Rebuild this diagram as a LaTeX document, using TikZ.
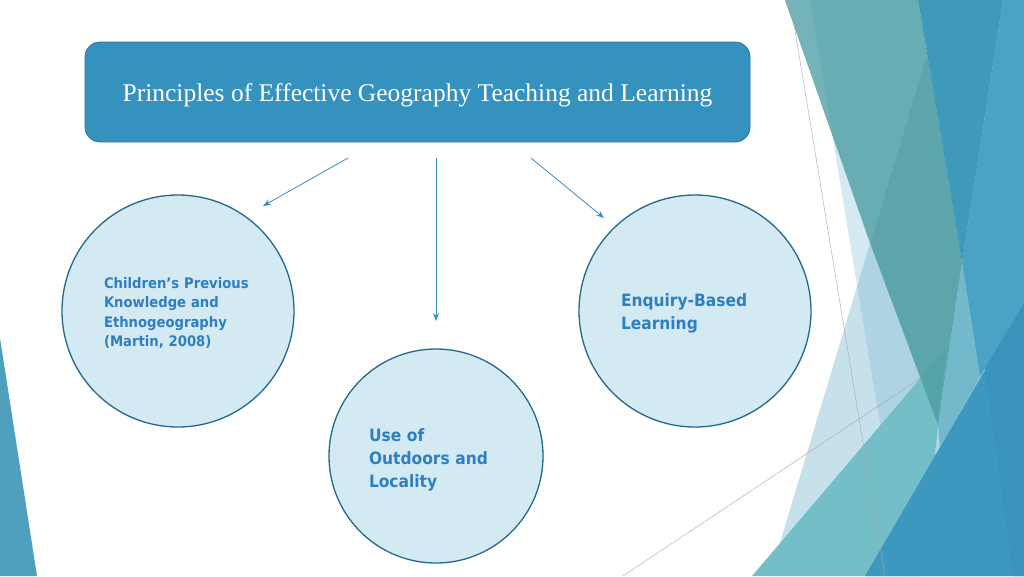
\documentclass[tikz,border=0pt]{standalone}
\usepackage{fontspec}
\setmainfont{Liberation Serif}
\newfontfamily\topicfont[FakeStretch=0.91]{DejaVu Sans}
\usetikzlibrary{arrows.meta}

\definecolor{headblue}{HTML}{3592BE}
\definecolor{headedge}{HTML}{2D7896}
\definecolor{ringfill}{HTML}{D4EAF3}
\definecolor{ringedge}{HTML}{22698A}
\definecolor{topictext}{HTML}{2E7EC2}
\definecolor{linkblue}{HTML}{3A8DC0}
\definecolor{paleA}{HTML}{8EC6DC}
\definecolor{paleB}{HTML}{7AB8D4}
\definecolor{tealA}{HTML}{68ADB3}
\definecolor{tealB}{HTML}{5CA5AB}
\definecolor{tealC}{HTML}{74B3B9}
\definecolor{tealD}{HTML}{53A3A7}
\definecolor{lteal}{HTML}{74BFC7}
\definecolor{blueA}{HTML}{3F9AB9}
\definecolor{blueB}{HTML}{4AA2C5}
\definecolor{blueC}{HTML}{72B9CC}
\definecolor{blueD}{HTML}{3D98BF}
\definecolor{blueE}{HTML}{3993BB}
\definecolor{sideblue}{HTML}{4F9FBF}

\begin{document}
\begin{tikzpicture}[x=1pt, y=-1pt, >={Stealth[length=8pt,width=6pt]},
    title/.style={draw=headedge, line width=0.8pt, fill=headblue, rounded corners=15pt, minimum width=665pt, minimum height=100pt, text=white, text height=20pt, text depth=2pt, font=\fontsize{25.5}{30}\selectfont},
    topic/.style={circle, draw=ringedge, line width=1.3pt, fill=ringfill, text=topictext, align=left, font=\topicfont\bfseries\fontsize{17}{23}\selectfont},
    link/.style={->, linkblue, line width=0.8pt}]

        % Page
        \fill[white] (0,0) rectangle (1024,576);
        \useasboundingbox (0,0) rectangle (1024,576);

        % Facets on the left
        \fill[sideblue] (0,338) -- (37,576) -- (0,576) -- cycle;

        % Facets on the right
        \fill[paleA, opacity=0.38] (810,0) -- (1024,0) -- (1024,576) -- (905,576) -- cycle;
        \fill[paleB, opacity=0.42] (943,0) -- (1024,0) -- (1024,576) -- (770,576) -- cycle;
        \fill[tealA] (785,0) -- (918,0) -- (927,54) -- (870,243) -- cycle;
        \fill[tealC] (785,0) -- (810,0) -- (831,128) -- cycle;
        \fill[tealB] (927,54) -- (962,263) -- (938,425) -- (870,243) -- cycle;
        \fill[blueA] (918,0) -- (1003,0) -- (962,263) -- cycle;
        \fill[blueB] (1003,0) -- (1024,0) -- (1024,303) -- (980,377) -- (962,263) -- cycle;
        \fill[blueC] (962,263) -- (980,377) -- (940,447) -- (938,425) -- cycle;
        \fill[lteal] (752,576) -- (947,347) -- (921,576) -- cycle;
        \fill[tealD] (920,377) -- (947,347) -- (938,425) -- cycle;
        \fill[blueD] (865,576) -- (1024,303) -- (1024,576) -- cycle;
        \fill[blueE] (985,368) -- (1024,303) -- (1024,576) -- (1013,576) -- cycle;
        \draw[gray!70, line width=0.4pt] (790,0) -- (885,576);
        \draw[gray!70, line width=0.4pt] (623,576) -- (922,377);

        % Heading
        \node[title] (head) at (417.5,92) {Principles of Effective Geography Teaching and Learning};

        % Topics
        \node[topic, minimum size=232pt, text width=148pt, text height=15pt, font=\topicfont\bfseries\fontsize{14.5}{19.5}\selectfont] (prior) at (178,311) {Children’s Previous\\Knowledge and\\Ethnogeography\\(Martin, 2008)};
        \node[topic, minimum size=214pt, text width=134pt, text height=21pt] (outdoor) at (436,456) {Use of\\Outdoors and\\Locality};
        \node[topic, minimum size=232pt, text width=148pt, text height=17pt] (enquiry) at (695,311) {Enquiry-Based\\Learning};

        % Arrows
        \coordinate (fromL) at (348,158);
        \coordinate (toL) at (263,206);
        \coordinate (fromM) at (436,158);
        \coordinate (toM) at (436,321);
        \coordinate (fromR) at (531,158);
        \coordinate (toR) at (604,218);
        \draw[link] (fromL) -- (toL);
        \draw[link] (fromM) -- (toM);
        \draw[link] (fromR) -- (toR);
\end{tikzpicture}
\end{document}
